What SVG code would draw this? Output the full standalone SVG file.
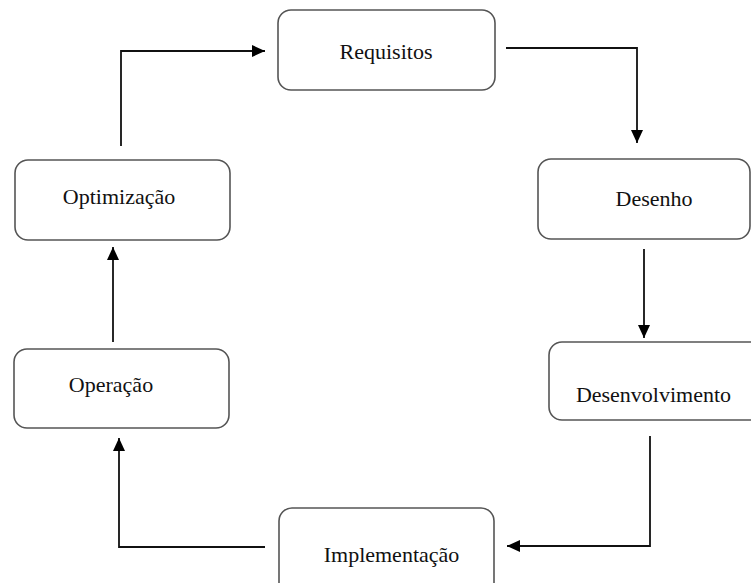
<svg xmlns="http://www.w3.org/2000/svg" width="751" height="583" viewBox="0 0 751 583">
<defs>
<style>
.box{fill:#fff;stroke:#555;stroke-width:1.6}
.lbl{font-family:"Liberation Serif","Times New Roman",serif;font-size:22px;fill:#111;text-anchor:middle}
.con{fill:none;stroke:#111;stroke-width:1.8}
</style>
<marker id="ah" markerUnits="userSpaceOnUse" markerWidth="14" markerHeight="12" viewBox="0 0 14 12" refX="13" refY="6" orient="auto">
<path d="M0,0 L13,6 L0,12 Z" fill="#000"/>
</marker>
</defs>
<rect width="751" height="583" fill="#fff"/>
<g id="connectors">
<path class="con" d="M121,146 V51 H265" marker-end="url(#ah)"/>
<path class="con" d="M506,48 H637 V143" marker-end="url(#ah)"/>
<path class="con" d="M644,249 V338" marker-end="url(#ah)"/>
<path class="con" d="M650,436 V546 H507" marker-end="url(#ah)"/>
<path class="con" d="M265,547 H119 V438" marker-end="url(#ah)"/>
<path class="con" d="M113,342 V247" marker-end="url(#ah)"/>
</g>
<g id="requisitos">
<rect class="box" x="278" y="10" width="217" height="80" rx="13"/>
<text class="lbl" x="386" y="59">Requisitos</text>
</g>
<g id="desenho">
<rect class="box" x="538" y="159" width="212" height="80" rx="13"/>
<text class="lbl" x="654" y="206">Desenho</text>
</g>
<g id="desenvolvimento">
<rect class="box" x="549" y="342" width="215" height="78" rx="13"/>
<text class="lbl" x="653.5" y="402">Desenvolvimento</text>
</g>
<g id="implementacao">
<rect class="box" x="279" y="508" width="215" height="88" rx="13"/>
<text class="lbl" x="391.5" y="562">Implementação</text>
</g>
<g id="operacao">
<rect class="box" x="14" y="349" width="215" height="79" rx="13"/>
<text class="lbl" x="111" y="392">Operação</text>
</g>
<g id="optimizacao">
<rect class="box" x="15" y="160" width="215" height="80" rx="13"/>
<text class="lbl" x="119" y="204">Optimização</text>
</g>
</svg>
